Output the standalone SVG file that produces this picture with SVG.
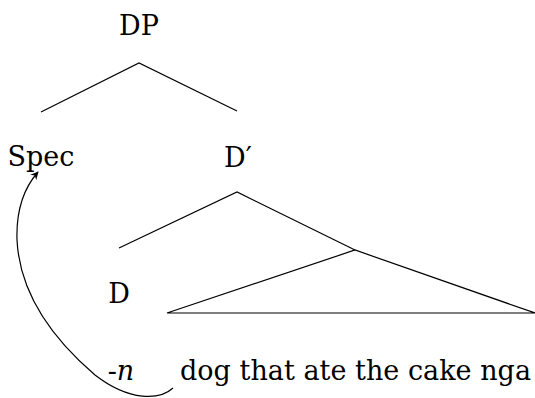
<svg xmlns="http://www.w3.org/2000/svg" width="535" height="398" viewBox="0 0 535 398">
<defs>
<style>
.t{font-family:'DejaVu Serif',serif;font-size:27px;fill:#000}
.e{stroke:#000;stroke-width:1.2;fill:none}
</style>
<marker id="ah" viewBox="0 0 10 10" refX="9" refY="5" markerWidth="8" markerHeight="8" orient="auto" markerUnits="userSpaceOnUse">
<path d="M0,0 L10,5 L0,10 L3,5 Z" fill="#000"/>
</marker>
</defs>
<rect width="535" height="398" fill="#fff"/>
<g id="connectors">
<path class="e" d="M41,112 L139,63 L237,111"/>
<path class="e" d="M119,248 L237,192 L355,250"/>
<path class="e" d="M167,313 L355,250 L535,313 Z"/>
<path class="e" d="M173,388 C160,400 130,402 95,375 C60,345 20,300 17,240 C16,210 24,188 38,172" marker-end="url(#ah)"/>
</g>
<g id="DP"><text class="t" x="139" y="35" text-anchor="middle" font-size="28">DP</text></g>
<g id="Spec"><text class="t" x="41" y="166" text-anchor="middle">Spec</text></g>
<g id="Dbar"><text class="t" x="238" y="167" text-anchor="middle">D′</text></g>
<g id="D"><text class="t" x="119" y="303" text-anchor="middle">D</text></g>
<g id="n"><text class="t" x="121" y="380" text-anchor="middle">-<tspan font-style="italic">n</tspan></text></g>
<g id="phrase"><text class="t" x="180" y="380" textLength="351" lengthAdjust="spacing">dog that ate the cake nga</text></g>
</svg>
